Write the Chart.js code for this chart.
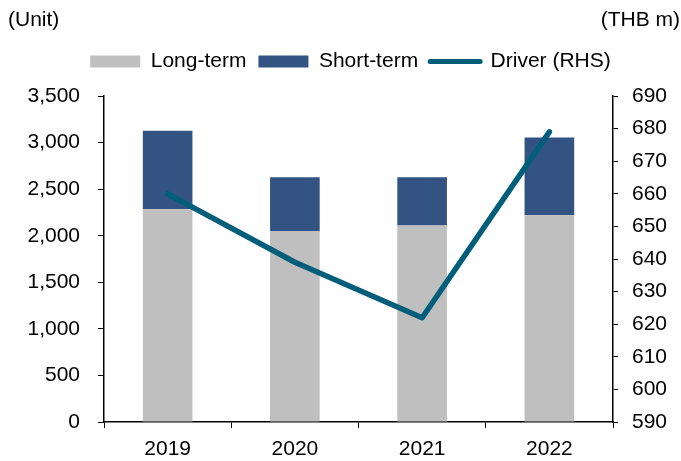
<!DOCTYPE html>
<html>
<head>
<meta charset="utf-8">
<script src="https://cdn.jsdelivr.net/npm/chart.js@4/dist/chart.umd.min.js"></script>
<style>
html,body{margin:0;padding:0;background:#fff;}
#wrap{width:681px;height:461px;position:relative;}
</style>
</head>
<body>
<div id="wrap"><canvas id="c" width="681" height="461"></canvas></div>
<script>
const categories = ['2019', '2020', '2021', '2022'];
const longTerm = [2285, 2050, 2110, 2220];
const shortTerm = [843, 577, 517, 835];
const driver = [660, 639, 622, 679];
const leftTitle = '(Unit)';
const rightTitle = '(THB m)';

const FONT = {family: '"Liberation Sans", Arial, sans-serif', size: 21};

const cornerText = {
  id: 'cornerText',
  afterDraw(chart) {
    const ctx = chart.ctx;
    ctx.save();
    ctx.font = '21px "Liberation Sans", Arial, sans-serif';
    ctx.fillStyle = '#000';
    ctx.textBaseline = 'middle';
    ctx.textAlign = 'left';
    ctx.fillText(leftTitle, 8, 20);
    ctx.textAlign = 'right';
    ctx.fillText(rightTitle, 680, 20);
    ctx.restore();
  }
};

const spacer = {
  id: 'spacer',
  beforeInit(chart) {
    Chart.layouts.addBox(chart, {
      position: 'top', weight: 500, fullSize: true, options: {},
      top: 0, left: 0, right: 0, bottom: 0, width: 0, height: 0,
      isHorizontal() { return true; },
      update(maxW) { this.width = maxW; this.height = 14; },
      draw() {},
      getPadding() { return {left: 0, right: 0, top: 0, bottom: 0}; }
    });
  }
};

Chart.defaults.font = FONT;
Chart.defaults.color = '#000';

new Chart(document.getElementById('c'), {
  data: {
    labels: categories,
    datasets: [
      {type: 'bar', label: 'Long-term', data: longTerm, backgroundColor: '#bfbfbf', yAxisID: 'y', stack: 's', order: 2,
       barPercentage: 0.39, categoryPercentage: 1},
      {type: 'bar', label: 'Short-term', data: shortTerm, backgroundColor: '#335382', yAxisID: 'y', stack: 's', order: 2,
       barPercentage: 0.39, categoryPercentage: 1},
      {type: 'line', label: 'Driver (RHS)', data: driver, borderColor: '#005e7a', backgroundColor: '#005e7a', borderWidth: 5.5,
       pointRadius: 0, pointHoverRadius: 0, tension: 0, borderCapStyle: 'round', borderJoinStyle: 'round', yAxisID: 'y1', order: 1}
    ]
  },
  options: {
    responsive: false,
    animation: false,
    devicePixelRatio: 1,
    layout: {padding: {top: 39, left: 20, right: 0, bottom: 0}},
    plugins: {
      tooltip: {enabled: false},
      legend: {
        position: 'top',
        labels: {
          usePointStyle: true,
          pointStyleWidth: 50,
          boxHeight: 12,
          padding: 12,
          font: FONT,
          color: '#000',
          sort: (a, b) => a.datasetIndex - b.datasetIndex,
          generateLabels(chart) {
            const items = Chart.defaults.plugins.legend.labels.generateLabels(chart);
            items.forEach(it => {
              const ds = chart.data.datasets[it.datasetIndex];
              if (ds.type === 'line') {
                it.pointStyle = 'line';
                it.strokeStyle = ds.borderColor;
                it.lineWidth = 5;
                it.lineCap = 'round';
              } else {
                it.pointStyle = 'rect';
                it.fillStyle = ds.backgroundColor;
                it.lineWidth = 0;
              }
            });
            return items;
          }
        }
      }
    },
    scales: {
      x: {
        stacked: true,
        offset: true,
        grid: {offset: true, drawOnChartArea: false, drawTicks: true, tickLength: 6, color: '#000'},
        border: {color: '#000', width: 1.5},
        ticks: {font: FONT, color: '#000', padding: 9, maxRotation: 0},
        afterFit(s) { s.height = 39; }
      },
      y: {
        stacked: true,
        position: 'left',
        min: 0, max: 3500,
        grid: {drawOnChartArea: false, drawTicks: true, tickLength: 6, color: '#000'},
        border: {color: '#000', width: 1.5},
        ticks: {stepSize: 500, font: FONT, color: '#000', padding: 18,
                callback: v => v.toLocaleString('en-US')},
        afterFit(s) { s.width = 84; }
      },
      y1: {
        position: 'right',
        min: 590, max: 690,
        grid: {drawOnChartArea: false, drawTicks: true, tickLength: 5, color: '#000'},
        border: {color: '#000', width: 1.5},
        ticks: {stepSize: 10, font: FONT, color: '#000', padding: 14},
        afterFit(s) { s.width = 68; }
      }
    }
  },
  plugins: [cornerText, spacer]
});
</script>
</body>
</html>
